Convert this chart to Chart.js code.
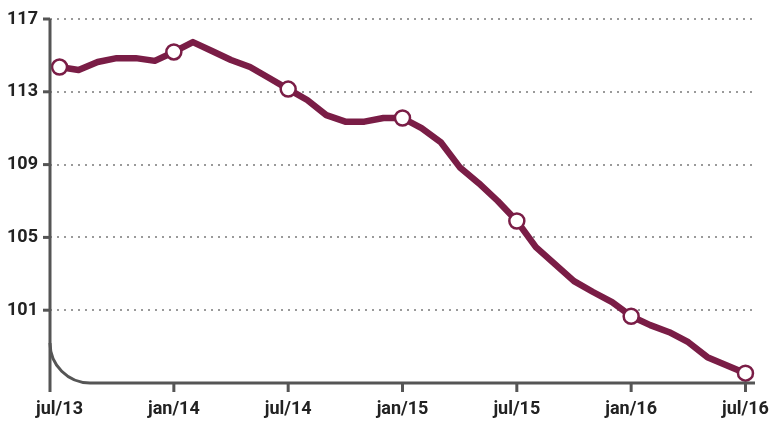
<!DOCTYPE html>
<html>
<head>
<meta charset="utf-8">
<script src="https://cdn.jsdelivr.net/npm/chart.js@4.4.1/dist/chart.umd.min.js"></script>
<style>
  html, body { margin: 0; padding: 0; background: #fff; }
  #wrap { width: 771px; height: 425px; }
</style>
</head>
<body>
<div id="wrap"><canvas id="lineChart"></canvas></div>
<script>
// monthly index, jul/13 .. jul/16
var months = ["jul/13","ago/13","set/13","out/13","nov/13","dez/13",
              "jan/14","fev/14","mar/14","abr/14","mai/14","jun/14",
              "jul/14","ago/14","set/14","out/14","nov/14","dez/14",
              "jan/15","fev/15","mar/15","abr/15","mai/15","jun/15",
              "jul/15","ago/15","set/15","out/15","nov/15","dez/15",
              "jan/16","fev/16","mar/16","abr/16","mai/16","jun/16",
              "jul/16"];
var values = [114.36, 114.2, 114.64, 114.85, 114.85, 114.7,
              115.19, 115.73, 115.24, 114.75, 114.36, 113.76,
              113.15, 112.55, 111.72, 111.36, 111.36, 111.56,
              111.56, 111.0, 110.24, 108.86, 107.98, 107.0,
              105.9, 104.47, 103.53, 102.6, 102.0, 101.44,
              100.67, 100.18, 99.79, 99.24, 98.42, 97.98,
              97.54];
var yTicks = [101, 105, 109, 113, 117];
var xTicks = [0, 6, 12, 18, 24, 30, 36];

var lineColor = "#7a1d46";
var axisColor = "#555555";
var font = { family: "Roboto, 'DejaVu Sans Condensed', sans-serif", size: 18, weight: "bold" };

var points = values.map(function (v, i) { return { x: i, y: v }; });

var axisPlugin = {
    id: "axisPlugin",
    afterDraw: function (chart) {
        var ctx = chart.ctx;
        var xs = chart.scales.x, ys = chart.scales.y;
        var left = chart.chartArea.left, bottom = chart.chartArea.bottom;
        var right = chart.chartArea.right, top = chart.chartArea.top;
        var r = 40;
        ctx.save();
        ctx.strokeStyle = axisColor;
        ctx.lineWidth = 3;
        ctx.lineCap = "butt";
        // y axis
        ctx.beginPath();
        ctx.moveTo(left, top);
        ctx.lineTo(left, bottom + 9);
        ctx.stroke();
        // rounded corner + x axis
        ctx.beginPath();
        ctx.moveTo(left, bottom - r);
        ctx.arcTo(left, bottom, left + r, bottom, r);
        ctx.lineTo(right, bottom);
        ctx.stroke();
        // x tick marks
        xTicks.forEach(function (t) {
            if (t === 0) return;
            var px = xs.getPixelForValue(t);
            ctx.beginPath();
            ctx.moveTo(px, bottom);
            ctx.lineTo(px, bottom + 9);
            ctx.stroke();
        });
        // y tick marks
        yTicks.forEach(function (t) {
            var py = ys.getPixelForValue(t);
            ctx.beginPath();
            ctx.moveTo(left - 7, py);
            ctx.lineTo(left, py);
            ctx.stroke();
        });
        ctx.restore();
    }
};

new Chart(document.getElementById("lineChart"), {
    type: "line",
    data: {
        datasets: [{
            data: points,
            borderColor: lineColor,
            borderWidth: 6.5,
            borderJoinStyle: "round",
            borderCapStyle: "round",
            tension: 0,
            fill: false,
            pointRadius: function (c) { return c.dataIndex % 6 === 0 ? 7.5 : 0; },
            pointBackgroundColor: "#ffffff",
            pointBorderColor: lineColor,
            pointBorderWidth: 2.5
        }]
    },
    options: {
        responsive: true,
        maintainAspectRatio: false,
        animation: false,
        layout: { padding: { top: 19, right: 16, left: 0, bottom: 0 } },
        plugins: { legend: { display: false }, tooltip: { enabled: false } },
        scales: {
            x: {
                type: "linear",
                min: -0.5,
                max: 36.5,
                afterBuildTicks: function (s) { s.ticks = xTicks.map(function (v) { return { value: v }; }); },
                afterFit: function (s) { s.height = 42; s.paddingLeft = 0; s.paddingRight = 0; },
                grid: { display: false, drawTicks: false },
                border: { display: false },
                ticks: {
                    autoSkip: false,
                    maxRotation: 0,
                    padding: 16,
                    color: "#222",
                    font: font,
                    callback: function (v) { return months[v]; }
                }
            },
            y: {
                min: 97,
                max: 117,
                afterBuildTicks: function (s) { s.ticks = yTicks.map(function (v) { return { value: v }; }); },
                afterFit: function (s) { s.width = 50; s.paddingTop = 0; s.paddingBottom = 0; },
                grid: { color: "#9a9a9a", lineWidth: 2, drawTicks: false },
                border: { display: false, dash: [2, 5] },
                ticks: { padding: 12, color: "#222", font: font }
            }
        }
    },
    plugins: [axisPlugin]
});
</script>
</body>
</html>
